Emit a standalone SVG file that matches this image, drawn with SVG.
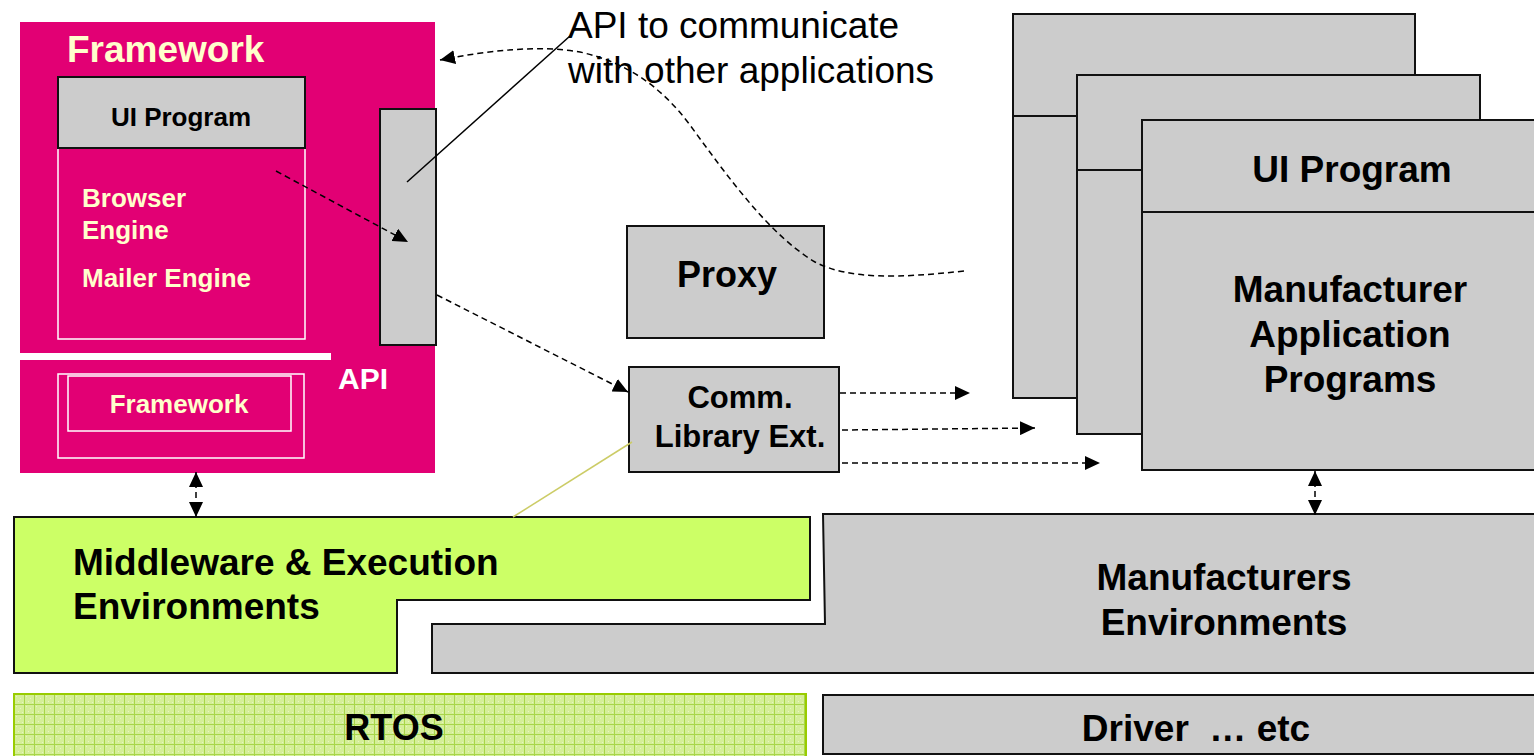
<svg xmlns="http://www.w3.org/2000/svg" width="1534" height="756" viewBox="0 0 1534 756">
<defs>
<style>
.b{font-family:"Liberation Sans",Arial,sans-serif;font-weight:bold}
.r{font-family:"Liberation Sans",Arial,sans-serif}
.gray{fill:#CCCCCC;stroke:#111;stroke-width:2}
.dash{fill:none;stroke:#000;stroke-width:1.5;stroke-dasharray:6 4}
.cream{fill:#FFFFCC}
.wl{fill:none;stroke:#FFFFFF;stroke-width:1.5}
</style>
<marker id="ah" markerUnits="userSpaceOnUse" markerWidth="16" markerHeight="14" refX="15" refY="7" orient="auto-start-reverse" viewBox="0 0 16 14">
<path d="M0,0 L15,7 L0,14 z" fill="#000"/>
</marker>
<pattern id="grid" width="10" height="10" patternUnits="userSpaceOnUse" x="14" y="694">
<rect width="10" height="10" fill="#D5EE98"/>
<rect x="2" y="2" width="1" height="1" fill="#E6F6C0"/>
<rect x="6" y="4" width="1" height="1" fill="#E6F6C0"/>
<rect x="4" y="7" width="1" height="1" fill="#E6F6C0"/>
<rect x="8" y="8" width="1" height="1" fill="#E6F6C0"/>
<path d="M0,0.5 H10 M0.5,0 V10" stroke="#A8D64A" stroke-width="1"/>
</pattern>
</defs>
<rect width="1534" height="756" fill="#FFFFFF"/>

<g id="framework">
<rect x="20" y="22" width="415" height="451" fill="#E20074"/>
<text class="b cream" x="67" y="62" font-size="37">Framework</text>
<rect class="wl" x="58" y="148" width="247" height="191"/>
<rect class="gray" x="58" y="77" width="247" height="71"/>
<text class="b" x="181" y="126" font-size="26" text-anchor="middle">UI Program</text>
<text class="b cream" x="82" y="207" font-size="26">Browser</text>
<text class="b cream" x="82" y="239" font-size="26">Engine</text>
<text class="b cream" x="82" y="287" font-size="26">Mailer Engine</text>
<rect x="20" y="353" width="311" height="7" fill="#FFFFFF"/>
<text class="b" x="338" y="389" font-size="30" fill="#FFFFFF">API</text>
<rect class="wl" x="58" y="374" width="246" height="84"/>
<rect class="wl" x="68" y="376" width="223" height="55"/>
<text class="b cream" x="179" y="413" font-size="26" text-anchor="middle">Framework</text>
</g>

<g id="api-bar">
<rect class="gray" x="380" y="109" width="56" height="236"/>
</g>

<g id="api-label">
<text class="r" x="568" y="38" font-size="37">API to communicate</text>
<text class="r" x="568" y="83" font-size="37">with other applications</text>
</g>

<g id="proxy">
<rect class="gray" x="627" y="226" width="197" height="112"/>
<text class="b" x="727" y="287" font-size="36" text-anchor="middle">Proxy</text>
</g>

<g id="comm">
<rect class="gray" x="629" y="367" width="210" height="105"/>
<text class="b" x="740" y="408" font-size="31" text-anchor="middle">Comm.</text>
<text class="b" x="740" y="447" font-size="31" text-anchor="middle">Library Ext.</text>
</g>

<g id="app-back">
<rect class="gray" x="1013" y="14" width="402" height="384"/>
<line x1="1013" y1="116" x2="1415" y2="116" stroke="#111" stroke-width="2"/>
</g>
<g id="app-middle">
<rect class="gray" x="1077" y="75" width="403" height="359"/>
<line x1="1077" y1="170" x2="1480" y2="170" stroke="#111" stroke-width="2"/>
</g>
<g id="app-front">
<rect class="gray" x="1142" y="120" width="410" height="350"/>
<line x1="1142" y1="212" x2="1552" y2="212" stroke="#111" stroke-width="2"/>
<text class="b" x="1352" y="182" font-size="37" text-anchor="middle">UI Program</text>
<text class="b" x="1350" y="302" font-size="37" text-anchor="middle">Manufacturer</text>
<text class="b" x="1350" y="347" font-size="37" text-anchor="middle">Application</text>
<text class="b" x="1350" y="392" font-size="37" text-anchor="middle">Programs</text>
</g>

<g id="middleware">
<path d="M14,517 H810 V600 H397 V673 H14 Z" fill="#CCFF66" stroke="#111" stroke-width="2"/>
<text class="b" x="73" y="575" font-size="37">Middleware &amp; Execution</text>
<text class="b" x="73" y="619" font-size="37">Environments</text>
</g>

<g id="manufacturers-env">
<path d="M823,514 H1545 V673 H432 V624 H825 Z" fill="#CCCCCC" stroke="#111" stroke-width="2"/>
<text class="b" x="1224" y="590" font-size="37" text-anchor="middle">Manufacturers</text>
<text class="b" x="1224" y="635" font-size="37" text-anchor="middle">Environments</text>
</g>

<g id="rtos">
<rect x="14" y="694" width="792" height="70" fill="url(#grid)" stroke="#99CC00" stroke-width="2"/>
<text class="b" x="394" y="740" font-size="36" text-anchor="middle">RTOS</text>
</g>

<g id="driver">
<rect class="gray" x="823" y="695" width="722" height="59"/>
<text class="b" x="1196" y="741" font-size="37" text-anchor="middle" xml:space="preserve">Driver  … etc</text>
</g>

<g id="connectors">
<line x1="407" y1="182" x2="570" y2="36" stroke="#000" stroke-width="1.5"/>
<path class="dash" d="M964,271 C900,278 850,280 815,262 C770,235 730,180 690,125 C660,85 625,62 580,52 C540,45 490,50 440,60" marker-end="url(#ah)"/>
<line class="dash" x1="276" y1="171" x2="408" y2="242" marker-end="url(#ah)"/>
<line class="dash" x1="437" y1="295" x2="628" y2="392" marker-end="url(#ah)"/>
<line class="dash" x1="840" y1="393" x2="970" y2="393" marker-end="url(#ah)"/>
<line class="dash" x1="842" y1="430" x2="1035" y2="428" marker-end="url(#ah)"/>
<line class="dash" x1="842" y1="463" x2="1100" y2="463" marker-end="url(#ah)"/>
<line x1="632" y1="442" x2="513" y2="517" stroke="#CCCC66" stroke-width="1.5"/>
<line class="dash" x1="196" y1="472" x2="196" y2="517" marker-start="url(#ah)" marker-end="url(#ah)"/>
<line class="dash" x1="1315" y1="471" x2="1315" y2="515" marker-start="url(#ah)" marker-end="url(#ah)"/>
</g>
</svg>
